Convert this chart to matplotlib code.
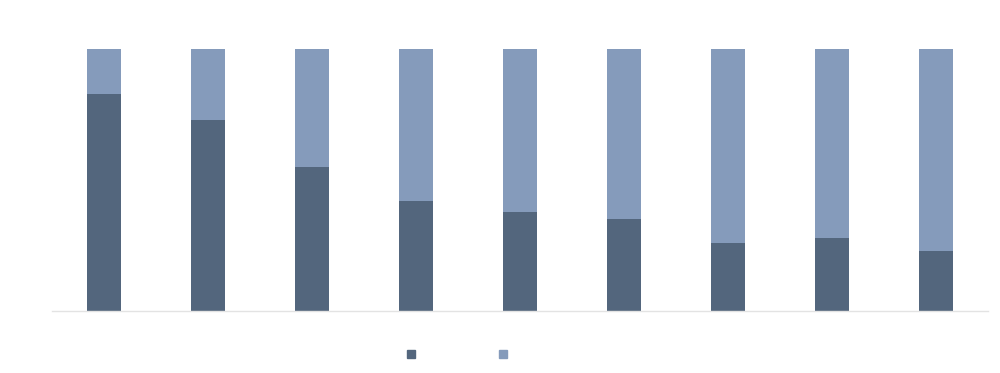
import numpy as np
from matplotlib import pyplot as plt
from matplotlib.lines import Line2D

# share of each bar in the dark series (percent), rest is the light series
categories = ["1", "2", "3", "4", "5", "6", "7", "8", "9"]
dark_share = [82.8, 72.9, 55.0, 42.0, 37.8, 35.1, 26.0, 27.9, 22.9]
light_share = [100 - v for v in dark_share]

dark_color = "#53667D"
light_color = "#859BBB"

fig = plt.figure(figsize=(10, 3.73), dpi=100)
ax = fig.add_axes((0.052, 0.166, 0.936, 0.703))

x = np.arange(len(categories))
ax.bar(x, dark_share, width=0.32, color=dark_color)
ax.bar(x, light_share, width=0.32, bottom=dark_share, color=light_color)

ax.set_xlim(-0.5, len(categories) - 0.5)
ax.set_ylim(0, 100)
ax.set_xticks([])
ax.set_yticks([])
for side in ["top", "right", "left"]:
    ax.spines[side].set_visible(False)
ax.spines["bottom"].set_color("#e3e3e3")
ax.spines["bottom"].set_linewidth(1)

handles = [Line2D([], [], marker="s", linestyle="none", markersize=5.5, color=c)
           for c in (dark_color, light_color)]
fig.legend(handles, [" ", " "], loc="center", bbox_to_anchor=(0.463, 0.049),
           ncol=2, frameon=False, handlelength=0.8, handletextpad=0.5,
           columnspacing=5.0)

fig.savefig("out.png")
